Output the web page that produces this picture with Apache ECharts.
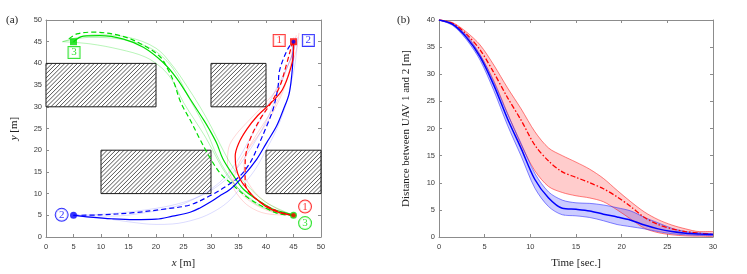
<!DOCTYPE html>
<html><head><meta charset="utf-8">
<script src="https://cdn.jsdelivr.net/npm/echarts/dist/echarts.min.js"></script>
<style>html,body{margin:0;padding:0;background:#fff}#c{width:747px;height:274px}</style>
</head><body><div id="c"></div>
<script>
// ---------- Panel (a): obstacles [x1, y1, x2, y2] ----------
const obstacles = [[0,30,20,40],[30,30,40,40],[10,10,30,20],[40,10,50,20]];

// ---------- Panel (a): trajectories [x, y] ----------
const uav1Solid = [[45,5],[42.5,5.6],[40,7],[38,9],[36.3,11.5],[35.3,13.3],[34.6,15.8],[34.4,18.6],[35,21.5],[36.5,24.8],[38.5,28],[41,31],[43,34],[44.4,38.5],[45,42.4],[45,45]];
const uav1Dash  = [[45,5],[42,6],[39,8],[37,10.2],[36.2,12.5],[36.2,15.5],[36.3,18.6],[37.1,22.5],[38.9,27.1],[40.7,30.5],[42.5,34.7],[43.8,40.1],[44.7,44.2],[45,45]];
const uav2Solid = [[5,5],[8,4.6],[12,4.2],[16,4.0],[20,4.1],[23,4.8],[26.2,5.7],[28,6.7],[29.8,8],[31.5,9.4],[33.5,11],[35.9,14.1],[38.3,17.9],[40.1,21.7],[41.9,25.5],[43.2,29.5],[44.2,33],[44.7,37.5],[44.9,41],[45,45]];
const uav2Dash  = [[5,5],[9.8,5.1],[15.9,5.6],[21.9,6.5],[26.2,7.4],[29.8,9.5],[32.9,11.8],[35.3,14.1],[37.1,17.1],[38.3,20.2],[40.1,25.5],[41.3,29.5],[42.2,34.7],[42.4,38],[43.3,41.5],[44.2,43.8],[45,45]];
const uav3Solid = [[45,5],[44.4,5.3],[41.3,6.4],[38.3,8.7],[35.9,11],[34.1,14.1],[32.2,17.9],[31,21.7],[29.6,25],[28.6,27.1],[26.2,31.8],[23.8,36.5],[21.3,40.2],[17.7,43.7],[14.1,45.6],[9.8,46.4],[6.8,46.3],[5,45]];
const uav3Dash  = [[45,5],[42.5,5.3],[40.7,6.2],[37.1,8.7],[33.5,12.5],[31.6,14.8],[29.8,18.3],[28,22.5],[26.2,27],[24.5,31],[23.3,35.5],[22.3,38.3],[20.7,41.6],[17.1,44.6],[13.5,46.4],[8.6,47.2],[5.6,46.8],[4,45.5]];
const uav1Runs = [
  [[45,5],[41,5.8],[38,7.5],[35.5,10],[33.8,13.5],[33,17],[33.2,20.5],[34.5,23.5],[37,27],[40,31],[42.5,35],[44,39.5],[45,43],[45.5,46.5]],
  [[45,5],[42,6.5],[39,9],[37,12],[36,15],[36.2,18.5],[37.5,22],[39.5,26],[41.5,30],[43,34],[44.5,39],[45.5,43],[46,47]],
  [[45,5],[40,5.4],[37,7],[35,9.5],[34,12],[34.5,15],[35.5,18],[37.5,21.5],[40,26],[42,30.5],[43.5,35],[44.5,40],[44.8,44],[45,46]]
];
const uav2Runs = [
  [[5,5],[10,4.4],[15,3.5],[20,2.9],[23,3],[27,4],[30,5.5],[33,8],[35.5,11.5],[38,15.5],[40,20],[42,25],[43.5,30],[44.5,35],[45.3,40],[45.8,46]],
  [[5,5],[12,5.4],[20,6.6],[25,8],[29,10],[32,12.5],[34.5,15.5],[36.5,19],[38.5,23],[40.5,28],[42,33],[43.5,38],[45,43],[45.3,46]],
  [[5,5],[12,4.8],[18,5.6],[24,7.2],[28,9.5],[31,12],[33,14.5],[35,18],[37,22.5],[39,27],[41,32],[43,37],[44.5,41],[45.6,45.5]]
];
const uav3Runs = [
  [[45,5],[41,6],[37,9],[34,12.5],[32,16],[30.5,19.5],[29,23],[27,27],[25,31],[23,36],[21,39],[18,41.5],[13.5,43.2],[8,44.5],[3,45]],
  [[45,5],[39,7],[35.5,10.5],[33,14.5],[31,19],[29.5,23.5],[28,27.5],[26,32],[24,37],[22,40.5],[19,43.5],[14,45.5],[8,46],[3,45]],
  [[45,5],[40,8],[36.5,12],[34,16],[32,20.5],[30,25.5],[28,30],[25.5,35],[23,39.5],[20,43.5],[15,46],[9,46.6],[3,45]]
];
// start / goal markers
const startPts = [[45,5],[5,5],[45,5]];   // UAV1, UAV2, UAV3
const goalPts  = [[45,45],[45,45],[5,45]];
// label anchors [x, y, text]
const circleLabels = [[47.1,7.0,'1'],[2.85,5.1,'2'],[47.1,3.2,'3']];
const boxLabels    = [[42.4,45.3,'1'],[47.7,45.3,'2'],[5.1,42.5,'3']];

// ---------- Panel (b): distance between UAV 1 and 2 ----------
const time      = [0,1.5,3,4.5,6,7.5,9,10.5,12,13.5,15,16.5,18,19.5,21,22.5,24,25.5,27,28.5,30];
const blueMean  = [40,39.2,36.8,33.2,28.0,21.8,16.3,10.6,7.2,5.3,5.1,4.8,4.2,3.7,3.1,2.2,1.5,1.0,0.7,0.55,0.45];
const blueUpper = [40,39.3,37.2,33.6,28.6,22.7,17.2,11.7,8.3,6.8,6.3,6.2,5.9,5.4,4.8,3.6,2.6,1.6,1.0,0.75,0.6];
const blueLower = [40,39.0,36.4,32.6,27.0,20.6,14.9,9.0,5.6,4.1,3.9,3.6,3.0,2.3,1.9,1.5,1.0,0.6,0.4,0.3,0.25];
const redMean   = [40,39.4,37.4,34.5,30.3,25.7,21.5,16.9,14.0,12.0,11.0,10.0,8.9,7.4,5.6,3.6,2.3,1.5,1.0,0.7,0.5];
const redUpper  = [40,39.5,37.8,35.4,31.7,27.5,23.6,19.4,16.4,15.0,13.8,12.5,10.8,8.6,6.5,4.6,3.2,2.2,1.5,1.0,1.0];
const redLower  = [40,39.2,36.9,33.5,28.8,22.8,17.0,12.2,9.3,8.2,7.6,7.2,6.5,5.0,3.3,1.6,0.8,0.4,0.2,0.15,0.1];

const xTicksA = 5, yTicksA = 5, xTicksB = 5, yTicksB = 5;

// ---------- styling ----------
const COL = {1:'#ff0000', 2:'#0000ff', 3:'#00dd00'};
const LIGHT = {1:'rgba(255,0,0,0.16)', 2:'rgba(0,0,255,0.14)', 3:'rgba(0,220,0,0.28)'};
const AX = '#8c8c8c', TXT = '#3a3a3a';
const tickFont = {fontFamily:'Liberation Sans, Arial', fontSize:7.5, color:TXT};
const serif = 'Liberation Serif, Times New Roman, serif';

function xAx(grid, min, max, interval, pos, labels, name) {
  return {type:'value', gridIndex:grid, min, max, interval, position:pos,
    axisLine:{show:true, onZero:false, lineStyle:{color:AX, width:1}},
    axisTick:{show:true, inside:true, length:3, lineStyle:{color:AX}},
    axisLabel:Object.assign({show:labels, margin:6}, tickFont),
    splitLine:{show:false},
    name: name || '', nameLocation:'middle', nameGap:21,
    nameTextStyle:{fontFamily:serif, fontSize:11, color:'#222', rich:{i:{fontFamily:serif, fontStyle:'italic', fontSize:11, color:'#222'}}}};
}
function yAx(grid, min, max, interval, pos, labels, name, gap) {
  return {type:'value', gridIndex:grid, min, max, interval, position:pos,
    axisLine:{show:true, onZero:false, lineStyle:{color:AX, width:1}},
    axisTick:{show:true, inside:true, length:3, lineStyle:{color:AX}},
    axisLabel:Object.assign({show:labels, margin:4}, tickFont),
    splitLine:{show:false},
    name: name || '', nameLocation:'middle', nameGap:gap || 26,
    nameTextStyle:{fontFamily:serif, fontSize:11, color:'#222', rich:{i:{fontFamily:serif, fontStyle:'italic', fontSize:11, color:'#222'}}}};
}

function renderObstacle(params, api) {
  const p1 = api.coord([api.value(0), api.value(3)]);
  const p2 = api.coord([api.value(2), api.value(1)]);
  const L = p1[0], T = p1[1], R = p2[0], B = p2[1];
  const children = [{type:'rect', shape:{x:L, y:T, width:R-L, height:B-T}, style:{fill:'#fff'}}];
  const step = 4.2;
  for (let c = L + T + step/2; c < R + B; c += step) {
    const xa = Math.max(L, c - B), xb = Math.min(R, c - T);
    if (xb <= xa) continue;
    children.push({type:'line', shape:{x1:xa, y1:c-xa, x2:xb, y2:c-xb}, style:{stroke:'#2a2a2a', lineWidth:0.8}});
  }
  children.push({type:'rect', shape:{x:L, y:T, width:R-L, height:B-T}, style:{fill:'none', stroke:'#1a1a1a', lineWidth:1}});
  return {type:'group', children};
}

const series = [];
series.push({type:'custom', xAxisIndex:0, yAxisIndex:0, renderItem:renderObstacle, data:obstacles, z:1, silent:true});

function trail(data, color, width, dashed, z) {
  return {type:'line', xAxisIndex:0, yAxisIndex:0, data, smooth:0.35, symbol:'none', z,
    lineStyle:{color, width, type: dashed ? [5,3] : 'solid'}, silent:true};
}
[[uav1Runs,1],[uav2Runs,2],[uav3Runs,3]].forEach(([runs,k]) => runs.forEach(r => series.push(trail(r, LIGHT[k], 1, false, 2))));
series.push(trail(uav3Dash, COL[3], 1.2, true, 3));
series.push(trail(uav3Solid, COL[3], 1.2, false, 3));
series.push(trail(uav2Dash, COL[2], 1.2, true, 4));
series.push(trail(uav2Solid, COL[2], 1.2, false, 4));
series.push(trail(uav1Dash, COL[1], 1.2, true, 5));
series.push(trail(uav1Solid, COL[1], 1.2, false, 5));

// markers
series.push({type:'scatter', xAxisIndex:0, yAxisIndex:0, z:6, silent:true, symbol:'circle', symbolSize:7,
  data:[{value:startPts[1], itemStyle:{color:COL[2]}}, {value:startPts[2], itemStyle:{color:COL[3]}}]});
series.push({type:'scatter', xAxisIndex:0, yAxisIndex:0, z:7, silent:true, symbol:'circle', symbolSize:4.5,
  data:[{value:startPts[0], itemStyle:{color:COL[1]}}]});
series.push({type:'scatter', xAxisIndex:0, yAxisIndex:0, z:6, silent:true, symbol:'rect', symbolSize:7,
  data:[{value:goalPts[2], itemStyle:{color:COL[3]}}, {value:goalPts[0], itemStyle:{color:COL[1]}}]});
series.push({type:'scatter', xAxisIndex:0, yAxisIndex:0, z:7, silent:true, symbol:'circle', symbolSize:4,
  data:[{value:goalPts[1], itemStyle:{color:COL[2]}}]});

function labelSeries(arr, round) {
  return {type:'scatter', xAxisIndex:0, yAxisIndex:0, z:8, silent:true, symbolSize:1,
    itemStyle:{color:'transparent'},
    data: arr.map(a => ({value:[a[0], a[1]], name:a[2],
      label:{show:true, position:'inside', formatter:a[2], color:COL[+a[2]], borderColor:COL[+a[2]], borderWidth:1,
        borderRadius: round ? 7 : 0, width: round ? 12 : 11, height: round ? 12 : 11, lineHeight: 12,
        align:'center', verticalAlign:'middle', fontFamily:serif, fontSize:11, backgroundColor:'#fff'}}))};
}
series.push(labelSeries(circleLabels, true));
series.push(labelSeries(boxLabels, false));

// panel (b): shaded bands drawn as polygons through the axes
function bandSeries(lower, upper, fill) {
  return {type:'custom', xAxisIndex:2, yAxisIndex:2, data:[0], z:2, silent:true,
    renderItem: function (params, api) {
      const pts = [];
      for (let i = 0; i < time.length; i++) pts.push(api.coord([time[i], upper[i]]));
      for (let i = time.length - 1; i >= 0; i--) pts.push(api.coord([time[i], lower[i]]));
      return {type:'polygon', shape:{points:pts, smooth:0.3}, style:{fill, stroke:'none'}};
    }};
}
const pair = (arr) => time.map((t,i) => [t, arr[i]]);
function edge(arr, color) {
  return {type:'line', xAxisIndex:2, yAxisIndex:2, data:pair(arr), smooth:0.3, symbol:'none', z:3,
    lineStyle:{color, width:0.8}, silent:true};
}
series.push(bandSeries(redLower, redUpper, 'rgba(255,0,0,0.2)'));
series.push(bandSeries(blueLower, blueUpper, 'rgba(0,0,255,0.2)'));
series.push(edge(redUpper, 'rgba(255,40,40,0.75)'), edge(redLower, 'rgba(255,40,40,0.75)'));
series.push(edge(blueUpper, 'rgba(40,40,255,0.7)'), edge(blueLower, 'rgba(40,40,255,0.7)'));
series.push({type:'line', xAxisIndex:2, yAxisIndex:2, data:pair(redMean), smooth:0.3, symbol:'none', z:4,
  lineStyle:{color:COL[1], width:1.3, type:[5,2,1.5,2]}, silent:true});
series.push({type:'line', xAxisIndex:2, yAxisIndex:2, data:pair(blueMean), smooth:0.3, symbol:'none', z:5,
  lineStyle:{color:COL[2], width:1.5}, silent:true});

const option = {
  animation:false,
  backgroundColor:'#fff',
  grid:[{left:46, right:426, top:20, bottom:36}, {left:439, right:34, top:20, bottom:36}],
  xAxis:[
    xAx(0, 0, 50, xTicksA, 'bottom', true, '{i|x} [m]'),
    xAx(0, 0, 50, xTicksA, 'top', false),
    xAx(1, 0, 30, xTicksB, 'bottom', true, 'Time [sec.]'),
    xAx(1, 0, 30, xTicksB, 'top', false)
  ],
  yAxis:[
    yAx(0, 0, 50, yTicksA, 'left', true, '{i|y} [m]', 26),
    yAx(0, 0, 50, yTicksA, 'right', false),
    yAx(1, 0, 40, yTicksB, 'left', true, 'Distance between UAV 1 and 2 [m]', 27),
    yAx(1, 0, 40, yTicksB, 'right', false)
  ],
  graphic:[
    {type:'text', left:6, top:15, style:{text:'(a)', font:'11px ' + serif, fill:'#222'}},
    {type:'text', left:397, top:15, style:{text:'(b)', font:'11px ' + serif, fill:'#222'}}
  ],
  series
};
const chart = echarts.init(document.getElementById('c'), null, {renderer:'canvas'});
chart.setOption(option);
</script>
</body></html>
